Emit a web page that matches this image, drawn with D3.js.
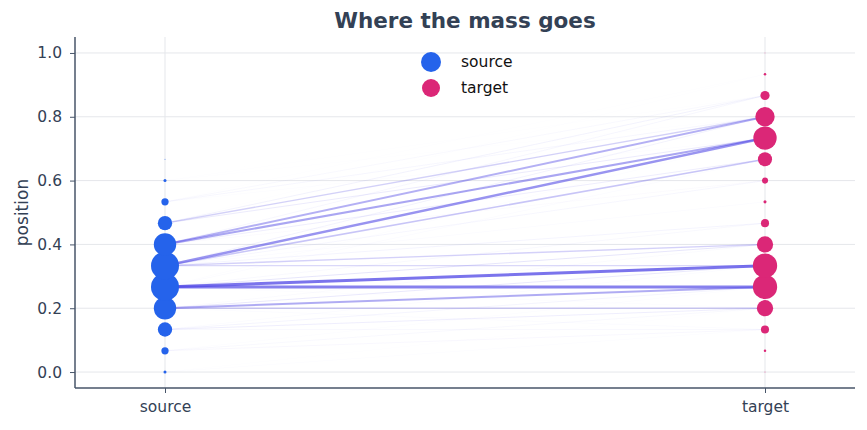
<!DOCTYPE html>
<html>
<head>
<meta charset="utf-8">
<script src="https://cdn.jsdelivr.net/npm/d3@7"></script>
<style>
  body { margin: 0; background: #ffffff; }
  svg text { font-family: "DejaVu Sans", sans-serif; }
</style>
</head>
<body>
<div id="chart"></div>
<script>
// Grid positions (k/15)
const positions = [0, 0.0667, 0.1333, 0.2, 0.2667, 0.3333, 0.4, 0.4667,
                   0.5333, 0.6, 0.6667, 0.7333, 0.8, 0.8667, 0.9333, 1.0];

// Mass at each position
const sourceMass = [0.003, 0.017, 0.066, 0.161, 0.252, 0.252, 0.161, 0.066,
                    0.017, 0.003, 0.0003, 0, 0, 0, 0, 0];
const targetMass = [0.0003, 0.002, 0.021, 0.085, 0.19, 0.19, 0.085, 0.021,
                    0.003, 0.012, 0.064, 0.175, 0.12, 0.027, 0.002, 0.0002];

// Transport plan entries: from source index -> to target index, with mass
const planFrom = [0, 0, 1, 1, 1, 2, 2, 2, 2, 3, 3, 3, 3, 3,
                  4, 4, 4, 4, 4, 4, 4, 5, 5, 5, 5, 5, 5, 5, 5,
                  6, 6, 6, 6, 6, 6, 7, 7, 7, 7, 8, 8, 8, 8, 9, 9, 9];
const planTo   = [2, 3, 2, 3, 4, 2, 3, 4, 5, 2, 3, 4, 5, 6,
                  3, 4, 5, 6, 7, 10, 11, 5, 6, 7, 8, 9, 10, 11, 12,
                  6, 9, 10, 11, 12, 13, 11, 12, 13, 14, 11, 12, 13, 14, 12, 13, 14];
const planMass = [0.002, 0.001, 0.007, 0.006, 0.002, 0.006, 0.015, 0.01, 0.003,
                  0.003, 0.035, 0.065, 0.018, 0.005,
                  0.002, 0.1, 0.11, 0.02, 0.006, 0.003, 0.002,
                  0.03, 0.035, 0.01, 0.003, 0.008, 0.045, 0.085, 0.012,
                  0.002, 0.004, 0.015, 0.07, 0.062, 0.008,
                  0.017, 0.036, 0.012, 0.001,
                  0.002, 0.008, 0.006, 0.001,
                  0.001, 0.0015, 0.0005];

const sides = ["source", "target"];
const yTicks = [0, 0.2, 0.4, 0.6, 0.8, 1.0];

// Dimensions
const W = 867, H = 430;
const margin = {left: 75, right: 12, top: 37, bottom: 42};

const svg = d3.select("#chart").append("svg")
    .attr("width", W)
    .attr("height", H);

// Scales
const xScale = d3.scaleLinear().domain([-0.15, 1.15]).range([margin.left, W - margin.right]);
const yScale = d3.scaleLinear().domain([-0.05, 1.05]).range([H - margin.bottom, margin.top]);
const rScale = d3.scaleSqrt().domain([0, 0.252]).range([0, 14]);

const gridColor = "#e5e7eb";
const textColor = "#334155";
const axisColor = "#475569";

// Grid
svg.append("g")
    .selectAll("line")
    .data(yTicks)
    .enter().append("line")
    .attr("x1", margin.left).attr("x2", W - margin.right)
    .attr("y1", d => yScale(d)).attr("y2", d => yScale(d))
    .attr("stroke", gridColor).attr("stroke-width", 1);

svg.append("g")
    .selectAll("line")
    .data([0, 1])
    .enter().append("line")
    .attr("x1", d => xScale(d)).attr("x2", d => xScale(d))
    .attr("y1", margin.top).attr("y2", H - margin.bottom)
    .attr("stroke", gridColor).attr("stroke-width", 1);

// Plan lines
const plan = planFrom.map((f, i) => ({from: f, to: planTo[i], mass: planMass[i]}));
const maxPlan = d3.max(planMass);

svg.append("g")
    .selectAll("line")
    .data(plan)
    .enter().append("line")
    .attr("x1", xScale(0))
    .attr("y1", d => yScale(positions[d.from]))
    .attr("x2", xScale(1))
    .attr("y2", d => yScale(positions[d.to]))
    .attr("stroke", "#4f46e5")
    .attr("stroke-opacity", d => 0.01 + 0.74 * d.mass / maxPlan)
    .attr("stroke-width", d => 0.5 + 2.6 * d.mass / maxPlan);

// Points
svg.append("g")
    .selectAll("circle")
    .data(positions.map((p, i) => ({p: p, m: sourceMass[i]})).filter(d => d.m > 0))
    .enter().append("circle")
    .attr("cx", xScale(0))
    .attr("cy", d => yScale(d.p))
    .attr("r", d => rScale(d.m))
    .attr("fill", "#2563eb");

svg.append("g")
    .selectAll("circle")
    .data(positions.map((p, i) => ({p: p, m: targetMass[i]})).filter(d => d.m > 0))
    .enter().append("circle")
    .attr("cx", xScale(1))
    .attr("cy", d => yScale(d.p))
    .attr("r", d => rScale(d.m))
    .attr("fill", "#db2777");

// Y axis
const yAxis = svg.append("g")
    .attr("transform", "translate(" + margin.left + ",0)")
    .call(d3.axisLeft(yScale).tickValues(yTicks).tickFormat(d3.format(".1f")).tickSize(5).tickPadding(8));
yAxis.select(".domain").remove();
yAxis.selectAll(".tick line").attr("stroke", axisColor);
yAxis.selectAll(".tick text").attr("fill", textColor).style("font-size", "15.5px");

// X axis
const xAxis = svg.append("g")
    .attr("transform", "translate(0," + (H - margin.bottom) + ")")
    .call(d3.axisBottom(xScale).tickValues([0, 1]).tickFormat((d, i) => sides[i]).tickSize(5).tickPadding(8));
xAxis.select(".domain").remove();
xAxis.selectAll(".tick line").attr("stroke", axisColor);
xAxis.selectAll(".tick text").attr("fill", textColor).style("font-size", "15.5px");

// Spines
svg.append("line")
    .attr("x1", margin.left).attr("x2", margin.left)
    .attr("y1", margin.top).attr("y2", H - margin.bottom)
    .attr("stroke", axisColor).attr("stroke-width", 1.5);
svg.append("line")
    .attr("x1", margin.left).attr("x2", W - margin.right)
    .attr("y1", H - margin.bottom).attr("y2", H - margin.bottom)
    .attr("stroke", axisColor).attr("stroke-width", 1.5);

// Y label
svg.append("text")
    .attr("transform", "rotate(-90)")
    .attr("x", -(margin.top + H - margin.bottom) / 2)
    .attr("y", 28)
    .attr("text-anchor", "middle")
    .attr("fill", textColor)
    .style("font-size", "17px")
    .text("position");

// Title
svg.append("text")
    .attr("x", (margin.left + W - margin.right) / 2)
    .attr("y", 28)
    .attr("text-anchor", "middle")
    .attr("fill", textColor)
    .style("font-size", "21.5px")
    .style("font-weight", "bold")
    .text("Where the mass goes");

// Legend
const legend = svg.append("g");
const legendItems = [
    {label: "source", color: "#2563eb", r: 10, y: 62},
    {label: "target", color: "#db2777", r: 9, y: 88}
];
legend.selectAll("circle")
    .data(legendItems)
    .enter().append("circle")
    .attr("cx", 431).attr("cy", d => d.y)
    .attr("r", d => d.r)
    .attr("fill", d => d.color);
legend.selectAll("text")
    .data(legendItems)
    .enter().append("text")
    .attr("x", 461).attr("y", d => d.y)
    .attr("dy", "0.35em")
    .attr("fill", "#111111")
    .style("font-size", "15.5px")
    .text(d => d.label);
</script>
</body>
</html>
